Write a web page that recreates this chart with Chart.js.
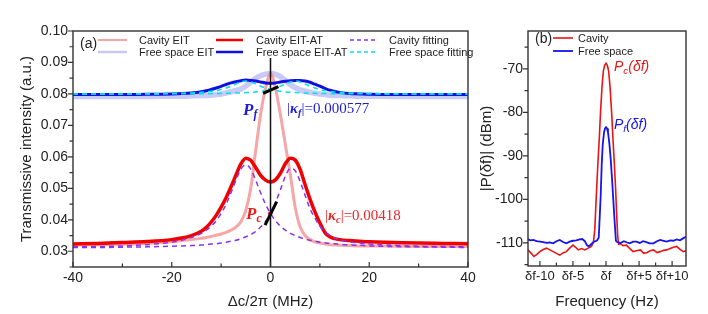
<!DOCTYPE html>
<html>
<head>
<meta charset="utf-8">
<script src="https://cdn.jsdelivr.net/npm/chart.js@4.4.0/dist/chart.umd.min.js"></script>
<style>
  body { margin: 0; background: #fff; }
  #wrap { position: relative; width: 708px; height: 314px; font-family: 'Liberation Sans', Arial, sans-serif; color: #222; }
  canvas { position: absolute; top: 0; }
  #cvA { left: 0; }
  #cvB { left: 466px; }
  svg { position: absolute; left: 0; top: 0; pointer-events: none; }
  .t { position: absolute; white-space: nowrap; transform: translateY(-50%); line-height: 1; }
  .lg { font-size: 11px; }
  .serif { font-family: 'Liberation Serif', 'Times New Roman', serif; font-size: 15px; }
  .ann { font-family: 'Liberation Serif', 'Times New Roman', serif; font-size: 17px; font-weight: bold; font-style: italic; }
  sub { font-size: 70%; vertical-align: -0.3em; }
</style>
</head>
<body>
<div id="wrap">
  <canvas id="cvA" width="490" height="314"></canvas>
  <canvas id="cvB" width="242" height="314"></canvas>

  <svg width="708" height="314">
    <!-- legend (a) -->
    <line x1="98" y1="40" x2="127" y2="40" stroke="rgb(246,165,165)" stroke-width="2"/>
    <line x1="98" y1="52" x2="127" y2="52" stroke="rgb(200,200,245)" stroke-width="2.5"/>
    <line x1="216" y1="40" x2="243" y2="40" stroke="rgb(240,0,0)" stroke-width="2.5"/>
    <line x1="216" y1="52" x2="243" y2="52" stroke="rgb(15,15,225)" stroke-width="2.5"/>
    <line x1="350" y1="40" x2="375" y2="40" stroke="rgb(140,50,235)" stroke-width="1.5" stroke-dasharray="4,3"/>
    <line x1="350" y1="52" x2="375" y2="52" stroke="rgb(0,225,235)" stroke-width="1.5" stroke-dasharray="4,3"/>
    <!-- legend (b) -->
    <line x1="553" y1="38" x2="573" y2="38" stroke="rgb(235,20,20)" stroke-width="1.6"/>
    <line x1="553" y1="51" x2="573" y2="51" stroke="rgb(20,20,235)" stroke-width="1.8"/>
  </svg>

  <div class="t" style="left:80px;top:43px;font-size:14px;">(a)</div>
  <div class="t lg" style="left:139px;top:40px;">Cavity EIT</div>
  <div class="t lg" style="left:256px;top:40px;">Cavity EIT-AT</div>
  <div class="t lg" style="left:389px;top:40px;">Cavity fitting</div>
  <div class="t lg" style="left:139px;top:52px;">Free space EIT</div>
  <div class="t lg" style="left:256px;top:52px;">Free space EIT-AT</div>
  <div class="t lg" style="left:389px;top:52px;">Free space fitting</div>

  <div class="t ann" style="left:243px;top:111px;color:rgb(30,30,210);">P<sub>f</sub></div>
  <div class="t serif" style="left:287px;top:110px;color:rgb(30,30,210);">|<b><i>κ<sub>f</sub></i></b>|=0.000577</div>
  <div class="t ann" style="left:246px;top:215px;color:rgb(235,30,30);">P<sub>c</sub></div>
  <div class="t serif" style="left:325px;top:217px;color:rgb(235,40,40);">|<b><i>κ<sub>c</sub></i></b>|=0.00418</div>

  <div class="t" style="left:535px;top:38px;font-size:14px;">(b)</div>
  <div class="t lg" style="left:578px;top:38px;">Cavity</div>
  <div class="t lg" style="left:578px;top:51px;">Free space</div>
  <div class="t" style="left:614px;top:67px;font-size:14px;font-style:italic;color:rgb(235,20,20);">P<sub>c</sub>(δf)</div>
  <div class="t" style="left:614px;top:125px;font-size:14px;font-style:italic;color:rgb(20,20,235);">P<sub>f</sub>(δf)</div>
</div>

<script>
// ==============================================================
// data (a): transmission vs detuning
// ==============================================================
const aX = [-40, -35, -30, -25, -20, -18, -16, -14, -13, -12, -11, -10, -9, -8, -7, -6, -5, -4, -3, -2, -1, 0,
            1, 2, 3, 4, 5, 6, 7, 8, 9, 10, 11, 12, 13, 14, 16, 18, 20, 25, 30, 35, 40];

const cavityEIT = [0.0320, 0.0321, 0.0322, 0.0325, 0.0330, 0.0334, 0.0337, 0.0341, 0.0344, 0.0347, 0.0351, 0.0355, 0.0360, 0.0367, 0.0377, 0.0394, 0.0430, 0.0500, 0.0620, 0.0735, 0.0818, 0.0866,
                   0.0818, 0.0735, 0.0640, 0.0545, 0.0440, 0.0378, 0.0350, 0.0337, 0.0330, 0.0326, 0.0323, 0.0321, 0.0320, 0.0319, 0.0318, 0.0317, 0.0317, 0.0316, 0.0315, 0.0315, 0.0315];
const cavityAT = [0.0323, 0.0325, 0.0328, 0.0331, 0.0337, 0.0342, 0.0350, 0.0364, 0.0376, 0.0393, 0.0414, 0.0440, 0.0470, 0.0505, 0.0542, 0.0578, 0.0596, 0.0589, 0.0566, 0.0541, 0.0526, 0.0520,
                  0.0527, 0.0548, 0.0578, 0.0596, 0.0590, 0.0560, 0.0512, 0.0466, 0.0425, 0.0390, 0.0360, 0.0346, 0.0340, 0.0337, 0.0334, 0.0332, 0.0330, 0.0328, 0.0326, 0.0325, 0.0324];
const cavityFitL = [0.0314, 0.0315, 0.0317, 0.0321, 0.0329, 0.0335, 0.0344, 0.0357, 0.0367, 0.0380, 0.0397, 0.0420, 0.0449, 0.0486, 0.0526, 0.0561, 0.0575, 0.0561, 0.0526, 0.0486, 0.0449, 0.0420,
                    0.0397, 0.0380, 0.0367, 0.0357, 0.0350, 0.0344, 0.0339, 0.0335, 0.0332, 0.0329, 0.0327, 0.0325, 0.0324, 0.0322, 0.0320, 0.0319, 0.0317, 0.0315, 0.0314, 0.0313, 0.0312];
const cavityFitR = [0.0312, 0.0312, 0.0313, 0.0314, 0.0316, 0.0317, 0.0318, 0.0320, 0.0321, 0.0323, 0.0324, 0.0326, 0.0329, 0.0332, 0.0335, 0.0340, 0.0346, 0.0353, 0.0363, 0.0377, 0.0395, 0.0420,
                    0.0454, 0.0495, 0.0538, 0.0563, 0.0556, 0.0522, 0.0478, 0.0435, 0.0405, 0.0380, 0.0362, 0.0350, 0.0342, 0.0337, 0.0330, 0.0326, 0.0323, 0.0319, 0.0316, 0.0315, 0.0314];
const freeEIT = [0.0792, 0.0792, 0.0792, 0.0792, 0.0793, 0.0793, 0.0794, 0.0795, 0.0795, 0.0796, 0.0798, 0.0800, 0.0803, 0.0807, 0.0811, 0.0816, 0.0825, 0.0838, 0.0850, 0.0858, 0.0863, 0.0865,
                 0.0862, 0.0855, 0.0843, 0.0830, 0.0820, 0.0813, 0.0809, 0.0805, 0.0802, 0.0800, 0.0798, 0.0796, 0.0795, 0.0795, 0.0794, 0.0793, 0.0793, 0.0792, 0.0792, 0.0792, 0.0792];
const freeAT = [0.0798, 0.0798, 0.0798, 0.0799, 0.0800, 0.0801, 0.0803, 0.0807, 0.0810, 0.0814, 0.0819, 0.0824, 0.0830, 0.0835, 0.0839, 0.0842, 0.0844, 0.0843, 0.0841, 0.0838, 0.0835, 0.0834,
                0.0835, 0.0838, 0.0840, 0.0842, 0.0843, 0.0843, 0.0841, 0.0837, 0.0831, 0.0825, 0.0818, 0.0812, 0.0808, 0.0805, 0.0801, 0.0800, 0.0799, 0.0798, 0.0798, 0.0798, 0.0798];
const freeFitL = [0.07995, 0.07996, 0.07999, 0.08005, 0.08015, 0.08022, 0.08033, 0.08052, 0.08065, 0.08083, 0.08108, 0.08141, 0.08186, 0.08246, 0.08317, 0.08382, 0.0841, 0.08382, 0.08317, 0.08246, 0.08186, 0.08141,
                  0.08108, 0.08083, 0.08065, 0.08052, 0.08042, 0.08034, 0.08027, 0.08022, 0.08018, 0.08015, 0.08012, 0.0801, 0.08009, 0.08008, 0.08006, 0.08005, 0.08004, 0.08, 0.07999, 0.07997, 0.07996];
const freeFitR = [0.07996, 0.07997, 0.07999, 0.08, 0.08004, 0.08005, 0.08006, 0.08008, 0.08009, 0.0801, 0.08012, 0.08015, 0.08018, 0.08022, 0.08027, 0.08034, 0.08042, 0.08052, 0.08065, 0.08083, 0.08108, 0.08141,
                  0.08186, 0.08246, 0.08317, 0.08382, 0.0841, 0.08382, 0.08317, 0.08246, 0.08186, 0.08141, 0.08108, 0.08083, 0.08065, 0.08052, 0.08033, 0.08022, 0.08015, 0.08005, 0.07999, 0.07996, 0.07995];

// marker lines (zero detuning, slopes at the crossing points)
const zeroX = [0, 0], zeroY = [0.0914, 0.025];
const pfSegX = [-1.5, 1.6], pfSegY = [0.0802, 0.0823];
const pcSegX = [-1.1, 1.26], pcSegY = [0.0383, 0.0458];
const pcDotX = [-0.05], pcDotY = [0.0419];

const aXMajor = [-40, -20, 0, 20, 40];
const aXMinor = [-30, -10, 10, 30];
const aYMajor = [0.03, 0.04, 0.05, 0.06, 0.07, 0.08, 0.09, 0.10];
const aYMinor = [0.025, 0.035, 0.045, 0.055, 0.065, 0.075, 0.085, 0.095];

// ==============================================================
// data (b): beat spectrum
// ==============================================================
const cavSpecX = [-11.8, -11.3, -10.9, -10.5, -10, -9.5, -9, -8.5, -8, -7.5, -7, -6.5, -6, -5.5, -5, -4.6, -4.2, -3.7, -3.2, -2.7, -2.2, -1.9, -1.7, -1.55, -1.4, -1.2, -1.0, -0.83, -0.6, -0.4, -0.2, 0,
                  0.2, 0.4, 0.6, 0.85, 1.05, 1.25, 1.45, 1.6, 1.75, 1.9, 2.2, 2.6, 3.1, 3.6, 4.1, 4.6, 5.2, 5.7, 6.2, 6.7, 7.2, 7.7, 8.2, 8.7, 9.2, 9.7, 10.2, 10.7, 11.2, 11.7, 12.1];
const cavSpecY = [-111.6, -112.4, -113.1, -112.7, -112.0, -111.5, -111.2, -111.6, -112.0, -112.4, -112.8, -112.3, -112.0, -111.2, -110.5, -111.0, -111.6, -111.3, -111.6, -111.2, -110.8, -109.8, -107, -102, -97, -91, -85.5, -80, -74, -70.5, -69.2, -68.7,
                  -69.2, -70.5, -74, -80, -86, -91.5, -97.5, -103, -108, -110.3, -110.2, -110.6, -110.5, -111.3, -112.0, -111.8, -111.6, -112.4, -112.2, -111.8, -111.6, -112.2, -112.0, -111.7, -111.6, -111.3, -111.0, -110.8, -111.5, -112.0, -111.8];
const freeSpecX = [-11.8, -11.4, -11, -10.5, -10, -9.5, -9, -8.5, -8, -7.5, -7, -6.5, -6, -5.5, -5, -4.5, -4, -3.6, -3.2, -2.9, -2.6, -2.2, -1.8, -1.4, -1.1, -0.95, -0.8, -0.65, -0.5, -0.3, -0.15, 0,
                   0.15, 0.3, 0.5, 0.7, 0.9, 1.1, 1.3, 1.5, 1.7, 2.2, 2.7, 3.2, 3.6, 4.1, 4.6, 5.1, 5.6, 6.1, 6.6, 7.2, 7.7, 8.2, 8.7, 9.2, 9.7, 10.2, 10.7, 11.2, 11.7, 12.1];
const freeSpecY = [-109.2, -109.4, -109.3, -109.6, -109.7, -109.8, -110.0, -109.9, -110.1, -109.6, -109.3, -109.8, -110.1, -109.7, -109.5, -109.4, -109.2, -109.1, -109.6, -110.5, -110.8, -110.2, -109.7, -109.5, -108.8, -104, -99, -92, -87.5, -84.6, -83.7, -83.4,
                   -83.7, -84.6, -87, -90.5, -95, -100, -105, -109.5, -109.8, -110.0, -109.6, -109.9, -110.1, -109.7, -109.7, -110.0, -109.6, -109.8, -110.1, -110.1, -109.6, -109.3, -109.5, -109.7, -109.4, -109.5, -109.2, -109.4, -108.9, -108.6];

const bXMajor = [-10, -5, 0, 5, 10];
const bXLabels = ['δf-10', 'δf-5', 'δf', 'δf+5', 'δf+10'];
const bXMinor = [-7.5, -2.5, 2.5, 7.5];
const bYMajor = [-110, -100, -90, -80, -70];
const bYMinor = [-115, -105, -95, -85, -75, -65];

function pts(xs, ys) {
    return xs.map((x, i) => ({x: x, y: ys[i]}));
}

// box around the plot + short tick marks (in on x, out on y)
const frameTicks = {
    id: 'frameTicks',
    afterDraw(chart) {
        const ctx = chart.ctx, a = chart.chartArea;
        const xs = chart.scales.x, ys = chart.scales.y;
        ctx.save();
        ctx.strokeStyle = '#333';
        ctx.lineWidth = 1.4;
        ctx.strokeRect(a.left, a.top, a.right - a.left, a.bottom - a.top);
        ctx.lineWidth = 1.2;
        ctx.beginPath();
        xs.ticks.forEach(t => {
            const p = xs.getPixelForValue(t.value);
            const len = t.label !== '' ? 5 : 3.5;
            ctx.moveTo(p, a.bottom);
            ctx.lineTo(p, a.bottom - len);
        });
        ys.ticks.forEach(t => {
            const p = ys.getPixelForValue(t.value);
            const len = t.label !== '' ? 5 : 3.5;
            ctx.moveTo(a.left, p);
            ctx.lineTo(a.left - len, p);
        });
        ctx.stroke();
        ctx.restore();
    }
};

Chart.defaults.font.family = "'Liberation Sans', Arial, sans-serif";
Chart.defaults.color = '#222';

function line(data, color, width, extra) {
    return Object.assign({
        data: data,
        borderColor: color,
        backgroundColor: color,
        borderWidth: width,
        pointRadius: 0,
        fill: false,
        cubicInterpolationMode: 'monotone'
    }, extra || {});
}

// ==============================================================
// (a)
// ==============================================================
new Chart(document.getElementById('cvA'), {
    type: 'line',
    data: {
        datasets: [
            line(pts(zeroX, zeroY), '#111', 1.5, {cubicInterpolationMode: 'default', tension: 0}),
            line(pts(pfSegX, pfSegY), '#000', 3, {cubicInterpolationMode: 'default', tension: 0}),
            line(pts(pcSegX, pcSegY), '#000', 3, {cubicInterpolationMode: 'default', tension: 0}),
            line(pts(pcDotX, pcDotY), 'rgb(240,0,0)', 0, {showLine: false, pointRadius: 2.2}),
            line(pts(aX, freeFitL), 'rgb(0,225,235)', 1.5, {borderDash: [5, 4]}),
            line(pts(aX, freeFitR), 'rgb(0,225,235)', 1.5, {borderDash: [5, 4]}),
            line(pts(aX, cavityFitL), 'rgb(140,50,235)', 1.5, {borderDash: [5, 4]}),
            line(pts(aX, cavityFitR), 'rgb(140,50,235)', 1.5, {borderDash: [5, 4]}),
            line(pts(aX, cavityAT), 'rgb(240,0,0)', 3.5),
            line(pts(aX, freeAT), 'rgb(15,15,225)', 3),
            line(pts(aX, cavityEIT), 'rgba(244,150,150,0.85)', 3),
            line(pts(aX, freeEIT), 'rgb(202,202,246)', 5.5)
        ]
    },
    plugins: [frameTicks],
    options: {
        animation: false,
        responsive: false,
        events: [],
        layout: {
            padding: {top: 31, right: 22, left: 0, bottom: 0}
        },
        plugins: {
            legend: {display: false},
            tooltip: {enabled: false}
        },
        scales: {
            x: {
                type: 'linear',
                min: -40,
                max: 40,
                grid: {display: false, drawTicks: false},
                border: {display: false},
                afterBuildTicks: s => { s.ticks = aXMajor.concat(aXMinor).sort((p, q) => p - q).map(v => ({value: v})); },
                afterFit: s => { s.height = 47; },
                ticks: {
                    autoSkip: false,
                    maxRotation: 0,
                    padding: 3,
                    font: {size: 14},
                    callback: v => aXMajor.includes(v) ? String(v) : ''
                },
                title: {display: true, text: 'Δc/2π (MHz)', font: {size: 15}, padding: {top: 4, bottom: 3}}
            },
            y: {
                min: 0.025,
                max: 0.10,
                grid: {display: false, drawTicks: false},
                border: {display: false},
                afterBuildTicks: s => { s.ticks = aYMajor.concat(aYMinor).sort((p, q) => p - q).map(v => ({value: v})); },
                afterFit: s => { s.width = 73; },
                ticks: {
                    autoSkip: false,
                    padding: 5,
                    font: {size: 14},
                    callback: v => aYMajor.includes(v) ? v.toFixed(2) : ''
                },
                title: {display: true, text: 'Transmissive intensity (a.u.)', font: {size: 15}, padding: {top: 18, bottom: 4}}
            }
        }
    }
});

// ==============================================================
// (b)
// ==============================================================
new Chart(document.getElementById('cvB'), {
    type: 'line',
    data: {
        datasets: [
            line(pts(freeSpecX, freeSpecY), 'rgb(20,20,235)', 1.8, {cubicInterpolationMode: 'default', tension: 0}),
            line(pts(cavSpecX, cavSpecY), 'rgb(235,20,20)', 1.6, {cubicInterpolationMode: 'default', tension: 0})
        ]
    },
    plugins: [frameTicks],
    options: {
        animation: false,
        responsive: false,
        events: [],
        layout: {
            padding: {top: 31, right: 22, left: 0, bottom: 0}
        },
        plugins: {
            legend: {display: false},
            tooltip: {enabled: false}
        },
        scales: {
            x: {
                type: 'linear',
                min: -11.8,
                max: 12.1,
                grid: {display: false, drawTicks: false},
                border: {display: false},
                afterBuildTicks: s => { s.ticks = bXMajor.concat(bXMinor).sort((p, q) => p - q).map(v => ({value: v})); },
                afterFit: s => { s.height = 48; },
                ticks: {
                    autoSkip: false,
                    maxRotation: 0,
                    padding: 3,
                    font: {size: 13},
                    callback: v => bXMajor.includes(v) ? bXLabels[bXMajor.indexOf(v)] : ''
                },
                title: {display: true, text: 'Frequency (Hz)', font: {size: 15}, padding: {top: 4, bottom: 3}}
            },
            y: {
                min: -115.3,
                max: -61.3,
                grid: {display: false, drawTicks: false},
                border: {display: false},
                afterBuildTicks: s => { s.ticks = bYMajor.concat(bYMinor).sort((p, q) => p - q).map(v => ({value: v})); },
                afterFit: s => { s.width = 62; },
                ticks: {
                    autoSkip: false,
                    padding: 5,
                    font: {size: 14},
                    callback: v => bYMajor.includes(v) ? String(v) : ''
                },
                title: {display: true, text: '|P(δf)| (dBm)', font: {size: 15}, padding: {top: 12, bottom: 4}}
            }
        }
    }
});
</script>
</body>
</html>
